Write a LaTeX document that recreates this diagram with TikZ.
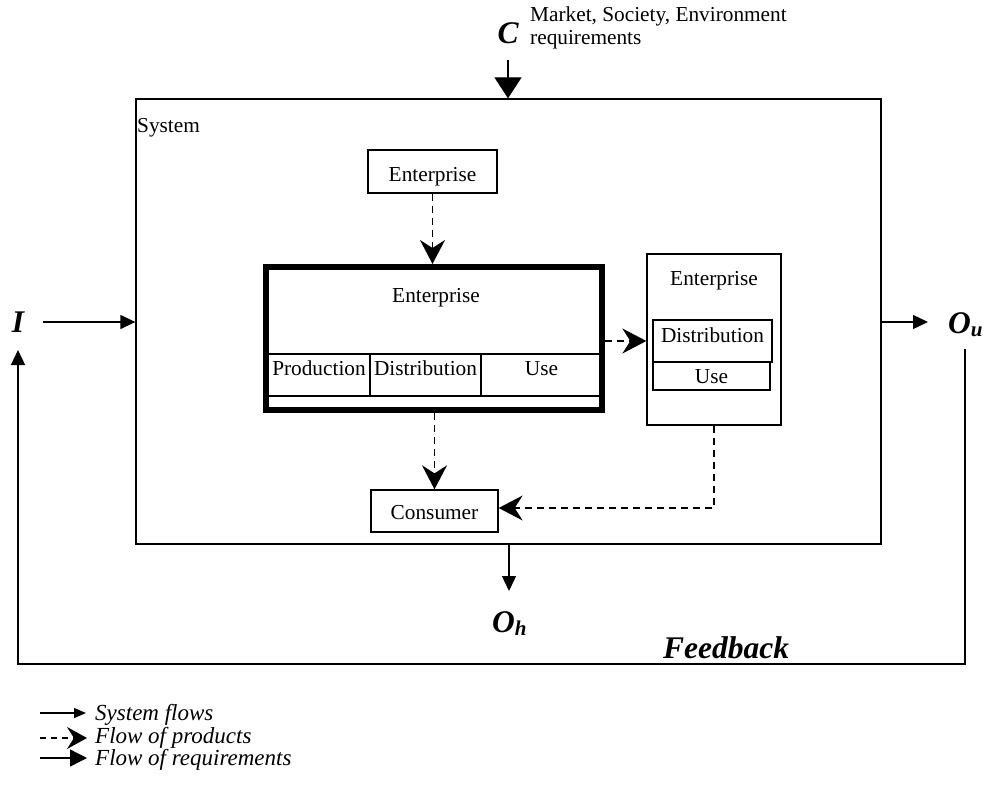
\documentclass[tikz,border=0pt]{standalone}
\usepackage{fontspec}
\setmainfont{Liberation Serif}
\usetikzlibrary{arrows.meta}

\newcommand\bodyfs{\fontsize{21.3}{22.5}\selectfont}
\newcommand\legfs{\fontsize{23}{24}\selectfont\itshape}
\newcommand\bigfs{\fontsize{31.5}{31.5}\selectfont\bfseries\itshape}
\newcommand\subfs{\fontsize{21}{21}\selectfont\bfseries\itshape}

\begin{document}
\begin{tikzpicture}[x=1pt,y=-1pt,
  box/.style={draw, rectangle, line width=1.3pt, inner xsep=0pt, inner ysep=0pt, font=\bodyfs},
  tb/.style 2 args={text height=#1, text depth=#2},
  lbl/.style={inner sep=0pt, font=\bodyfs},
  big/.style={inner sep=0pt, font=\bigfs},
  leg/.style={inner sep=0pt, font=\legfs, anchor=base west},
  flow/.style={line width=1.3pt, -{Triangle[length=15pt,width=14pt]}},
  prod/.style={line width=1.4pt, dash pattern=on 7pt off 5pt,
               -{Stealth[length=24pt,width=25pt,inset=8pt]}},
  req/.style={line width=1.3pt, -{Triangle[length=21pt,width=27pt]}}
]
\useasboundingbox (0,0) rectangle (985,792);

% system boundary
\node[box, minimum width=745pt, minimum height=445pt] (sys) at (508.5,321.5) {};
\node[lbl, anchor=base west] (syslab) at (137,132) {System};

% environment input
\node[big] (C) at (508,33) {C};
\node[lbl, anchor=north west, align=left] (mkt) at (530,7)
  {Market, Society, Environment\\requirements};
\coordinate (Cstart) at (508,60);
\draw[req] (Cstart) -- (Cstart |- sys.north);

% supplying enterprise
\node[box, minimum width=129pt, tb={31pt}{12pt}] (entTop) at (432.5,171.5) {Enterprise};

% focal enterprise (thick frame) with its life-cycle phases
\node[draw, rectangle, line width=6pt, minimum width=336pt, minimum height=143pt,
      inner sep=0pt] (ent) at (434,338.5) {};
\node[lbl, anchor=base] (entTitle) at (436,302) {Enterprise};
\node[box, minimum width=102pt, tb={21pt}{21pt}] (prodC) at (319,375) {Production};
\node[box, minimum width=111pt, tb={21pt}{21pt}] (distC) at (425.5,375) {Distribution};
\node[box, minimum width=121pt, tb={21pt}{21pt}] (useC) at (541.5,375) {Use};

% downstream enterprise
\node[box, minimum width=134pt, minimum height=171pt] (entR) at (714,339.5) {};
\node[lbl, anchor=base] (entRTitle) at (714,285) {Enterprise};
\node[box, line width=1.8pt, minimum width=119pt, tb={22pt}{20pt}] (entRD) at (712.5,341) {Distribution};
\node[box, minimum width=117pt, tb={21pt}{7pt}] (entRU) at (711.5,376) {Use};

% consumer
\node[box, minimum width=127pt, tb={29pt}{13pt}] (cons) at (434.5,511) {Consumer};
\coordinate (consIn) at ([yshift=3pt]cons.east);

% flows of products
\draw[prod] (entTop.south) -- (entTop.south |- ent.north);
\draw[prod] (ent.east |- entRD.west) -- (entR.west |- entRD.west);
\draw[prod] (cons.north |- ent.south) -- (cons.north);
\draw[prod] (entR.south) -- (entR.south |- consIn) -- (consIn);

% inputs and outputs of the system
\node[big] (I) at (18,322) {I};
\coordinate (Istart) at (43,322);
\draw[flow] (Istart) -- (Istart -| sys.west);

\node[big, anchor=base west] (Ou) at (948,333) {O\raisebox{-3pt}{\subfs u}};
\coordinate (OuEnd) at (928,322);
\draw[flow] (OuEnd -| sys.east) -- (OuEnd);

\node[big, anchor=base west] (Oh) at (492,632) {O\raisebox{-3pt}{\subfs h}};
\coordinate (OhEnd) at (509,591);
\draw[flow] (OhEnd |- sys.south) -- (OhEnd);

% feedback loop
\coordinate (fbTop) at (965,349);
\coordinate (fbR) at (965,664);
\coordinate (fbL) at (18,664);
\coordinate (fbIn) at (18,350);
\draw[flow] (fbTop) -- (fbR) -- (fbL) -- (fbIn);
\node[big, anchor=base west] (fbLab) at (663,658) {Feedback};

% legend
\node[leg] (legA) at (95,720) {System flows};
\node[leg] (legB) at (95,743) {Flow of products};
\node[leg] (legC) at (95,765) {Flow of requirements};
\coordinate (la0) at (40,713);  \coordinate (la1) at (86,713);
\coordinate (lb0) at (40,738);  \coordinate (lb1) at (87,738);
\coordinate (lc0) at (40,758);  \coordinate (lc1) at (87,758);
\draw[line width=1.3pt, -{Triangle[length=12pt,width=10pt]}] (la0) -- (la1);
\draw[line width=1.3pt, dash pattern=on 6pt off 5pt,
      -{Stealth[length=20pt,width=22pt,inset=7pt]}] (lb0) -- (lb1);
\draw[line width=1.3pt, -{Triangle[length=17pt,width=17pt]}] (lc0) -- (lc1);
\end{tikzpicture}
\end{document}
